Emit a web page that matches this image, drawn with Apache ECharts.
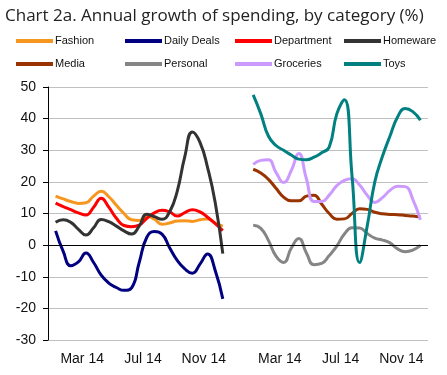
<!DOCTYPE html>
<html>
<head>
<meta charset="utf-8">
<script src="https://cdn.jsdelivr.net/npm/echarts@6/dist/echarts.min.js"></script>
<style>
  html, body { margin: 0; padding: 0; background: #fff; }
  #chart { width: 447px; height: 375px; }
</style>
</head>
<body>
<div id="chart"></div>
<script>
// x axis: 101 slots, roughly weekly; left panel = 2014, right panel = 2014 again
var categories = [];
for (var i = 0; i <= 100; i++) categories.push(String(i));
var tickIndex = [9, 25, 41, 61, 77, 93];
var tickLabels = ['Mar 14', 'Jul 14', 'Nov 14', 'Mar 14', 'Jul 14', 'Nov 14'];

var names = ['Fashion', 'Daily Deals', 'Department', 'Homeware', 'Media', 'Personal', 'Groceries', 'Toys'];
var colors = ['#F7961E', '#000080', '#FF0000', '#333333', '#993300', '#858585', '#CC99FF', '#008080'];

// left panel series (start slot 2, every 2 slots)
var fashion = [15.5, 14.6, 13.8, 13.2, 13.4, 15.5, 17, 15.3, 12.6, 10, 8, 7.8, 9.2, 8.2, 6.6, 7.0, 7.6, 7.7, 7.5, 8.0, 8.3, 7.0, 6.0];
var dailyDeals = [4.5, -2.0, -6.5, -5.3, -2.5, -5.5, -9.5, -12, -13.4, -14.3, -13.5, -5.5, 2.5, 4.3, 3.5, -0.8, -4.8, -7.5, -8.9, -6, -2.8, -8, -17];
var department = [13.3, 12.2, 11.2, 10.2, 9.5, 12, 14.8, 12.0, 8.5, 6.2, 5.8, 6.3, 8.5, 10.2, 11, 10.5, 9.2, 10.3, 11.2, 10.5, 8.8, 6.8, 4.6];
var homeware = [7.2, 8.0, 7.2, 5.0, 3.2, 5.5, 8.1, 7.4, 6.0, 4.5, 3.5, 6.0, 9.8, 9.0, 8.2, 10.5, 17, 28, 35.8, 32.5, 24.5, 13.5, -2.7];

// right panel series (start slot 54, every 2 slots)
var media = [24, 22.8, 20.8, 18, 15.2, 14, 14, 15.5, 15.8, 13, 10, 8.2, 8.3, 10, 11.5, 11.3, 10.4, 9.9, 9.7, 9.6, 9.4, 9.2, 8.9];
var personal = [6.3, 5.3, 1.5, -3.5, -5.5, -1, 2.1, -2.5, -6.2, -5.8, -3.3, -0.3, 3.5, 5.5, 5.4, 3.7, 2.2, 1.6, 0.7, -1.2, -2.1, -1.6, -0.1];
var groceries = [25.5, 26.8, 27, 23, 19.8, 23.5, 29, 21, 13.8, 13.8, 15.8, 18.8, 20.5, 21, 19, 15.8, 13.5, 15, 17.3, 18.6, 18.5, 14.5, 8];
var toys = [47.5, 41.5, 34.5, 31.5, 30, 28.5, 27.2, 27, 27.8, 29.2, 31, 41.5, 46, 22, -5.5, 6, 20, 28, 34.5, 40.5, 43.2, 42.2, 39.5];

var seriesValues = [fashion, dailyDeals, department, homeware, media, personal, groceries, toys];
var seriesStart = [2, 2, 2, 2, 54, 54, 54, 54];

function place(values, start) {
    var out = [];
    for (var i = 0; i < categories.length; i++) out.push(null);
    for (var k = 0; k < values.length; k++) out[start + 2 * k] = values[k];
    return out;
}

var chart = echarts.init(document.getElementById('chart'));

var series = [];
var legends = [];
var legendLeft = [16, 125, 235, 344];
var legendTop = [34, 57];
for (var s = 0; s < names.length; s++) {
    series.push({
        name: names[s],
        type: 'line',
        data: place(seriesValues[s], seriesStart[s]),
        connectNulls: true,
        smooth: true,
        symbol: 'none',
        z: s == 7 ? 3 : 2,
        lineStyle: { width: 3, color: colors[s] },
        itemStyle: { color: colors[s] }
    });
    legends.push({
        data: [names[s]],
        left: legendLeft[s % 4],
        top: legendTop[Math.floor(s / 4)],
        icon: 'rect',
        itemWidth: 37,
        itemHeight: 4,
        itemGap: 0,
        padding: 0,
        selectedMode: false,
        textStyle: { fontFamily: 'Liberation Sans', fontSize: 11, color: '#111', lineHeight: 14, padding: [0, 0, 0, -3] }
    });
}

// black zero line
series.push({
    type: 'line',
    data: [],
    silent: true,
    markLine: {
        silent: true,
        symbol: 'none',
        label: { show: false },
        lineStyle: { color: '#000', width: 1, type: 'solid' },
        data: [{ yAxis: 0 }]
    },
    z: 1
});

var option = {
    backgroundColor: '#fff',
    animation: false,
    title: {
        text: 'Chart 2a. Annual growth of spending, by category (%)',
        left: 0,
        top: 3,
        textStyle: { fontFamily: 'Open Sans', fontSize: 17, fontWeight: 'normal', color: '#222' }
    },
    legend: legends,
    grid: { left: 48, right: 19, top: 87, bottom: 35 },
    xAxis: {
        type: 'category',
        data: categories,
        boundaryGap: false,
        axisLine: { show: false },
        axisTick: { show: false },
        splitLine: { show: false },
        axisLabel: {
            interval: function (index) { return tickIndex.indexOf(index) >= 0; },
            formatter: function (value, index) {
                var p = tickIndex.indexOf(index);
                return p >= 0 ? tickLabels[p] : '';
            },
            fontFamily: 'Liberation Sans',
            fontSize: 14,
            color: '#111',
            margin: 12
        }
    },
    yAxis: {
        type: 'value',
        min: -30,
        max: 50,
        interval: 10,
        axisLine: { show: true, lineStyle: { color: '#000', width: 1 } },
        axisTick: { show: true, length: 5, lineStyle: { color: '#000' } },
        splitLine: { show: true, lineStyle: { color: '#C0C0C0', width: 1 } },
        axisLabel: { fontFamily: 'Liberation Sans', fontSize: 14, color: '#111', margin: 12 }
    },
    series: series
};
chart.setOption(option);
</script>
</body>
</html>
